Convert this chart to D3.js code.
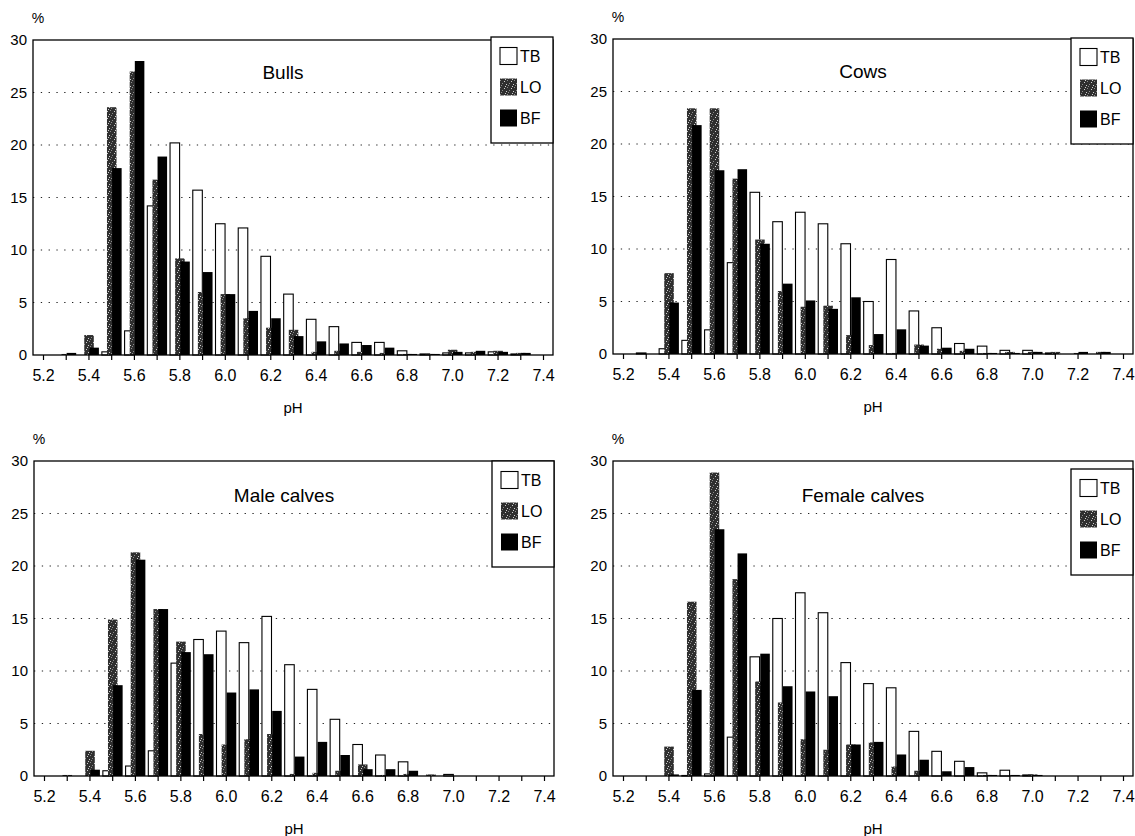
<!DOCTYPE html>
<html>
<head>
<meta charset="utf-8">
<script src="https://cdn.jsdelivr.net/npm/d3@7"></script>
<style>
  body { margin: 0; background: #fff; }
  svg { display: block; font-family: "Liberation Sans", Arial, sans-serif; }
</style>
</head>
<body>
<div id="chart"></div>
<script>
// pH classes on the x axis
const phClasses = ["5.2", "5.3", "5.4", "5.5", "5.6", "5.7", "5.8", "5.9", "6.0", "6.1", "6.2", "6.3",
    "6.4", "6.5", "6.6", "6.7", "6.8", "6.9", "7.0", "7.1", "7.2", "7.3", "7.4"];
const tickLabels = ["5.2", "5.4", "5.6", "5.8", "6.0", "6.2", "6.4", "6.6", "6.8", "7.0", "7.2", "7.4"];
const yTicks = [0, 5, 10, 15, 20, 25, 30];
const keys = ["TB", "LO", "BF"];

// % of carcasses per pH class
const bullsTB = [0, 0, 0, 0.3, 2.3, 14.2, 20.2, 15.7, 12.5, 12.1, 9.4, 5.8, 3.4, 2.7, 1.2, 1.2, 0.4, 0.1, 0.2, 0.2, 0.3, 0.1, 0];
const bullsLO = [0, 0.1, 1.9, 23.6, 27.0, 16.7, 9.2, 6.0, 5.8, 3.5, 2.6, 2.4, 0.3, 0.4, 0.3, 0.2, 0.1, 0.1, 0.5, 0.3, 0.4, 0.2, 0];
const bullsBF = [0, 0.2, 0.7, 17.8, 28.0, 18.9, 8.9, 7.9, 5.8, 4.2, 3.5, 1.8, 1.3, 1.1, 0.95, 0.7, 0.1, 0.1, 0.3, 0.4, 0.3, 0.2, 0];

const cowsTB = [0, 0.1, 0.5, 1.3, 2.3, 8.7, 15.4, 12.6, 13.5, 12.4, 10.5, 5.0, 9.0, 4.1, 2.5, 1.0, 0.75, 0.35, 0.35, 0.1, 0, 0, 0];
const cowsLO = [0, 0, 7.7, 23.4, 23.4, 16.7, 10.9, 6.0, 4.5, 4.6, 1.8, 0.85, 0.1, 0.9, 0.5, 0.3, 0.1, 0.2, 0.2, 0.2, 0.1, 0.2, 0];
const cowsBF = [0, 0, 4.9, 21.8, 17.5, 17.6, 10.5, 6.7, 5.1, 4.3, 5.4, 1.9, 2.35, 0.8, 0.6, 0.5, 0.1, 0.1, 0.2, 0, 0.2, 0.2, 0];

const maleTB = [0, 0, 0, 0.5, 0.95, 2.4, 10.75, 13.0, 13.8, 12.7, 15.2, 10.6, 8.25, 5.4, 3.0, 2.0, 1.35, 0, 0.15, 0, 0, 0, 0];
const maleLO = [0, 0.1, 2.4, 14.9, 21.3, 15.9, 12.8, 4.0, 3.0, 3.5, 4.0, 0.2, 0.3, 0.5, 1.1, 0.1, 0.2, 0.15, 0, 0, 0, 0, 0];
const maleBF = [0, 0, 0.6, 8.65, 20.6, 15.9, 11.8, 11.6, 7.95, 8.25, 6.2, 1.85, 3.25, 2.0, 0.65, 0.65, 0.5, 0, 0, 0, 0, 0, 0];

const femaleTB = [0, 0, 0, 0.05, 0.2, 3.7, 11.35, 15.0, 17.45, 15.55, 10.8, 8.8, 8.4, 4.25, 2.35, 1.4, 0.3, 0.55, 0.1, 0, 0, 0, 0];
const femaleLO = [0, 0, 2.8, 16.6, 28.9, 18.75, 9.0, 7.0, 3.5, 2.5, 3.0, 3.2, 0.9, 0.5, 0, 0, 0.1, 0, 0.15, 0, 0, 0, 0];
const femaleBF = [0, 0, 0.15, 8.2, 23.5, 21.2, 11.65, 8.55, 8.05, 7.6, 3.0, 3.25, 2.05, 1.55, 0.45, 0.85, 0.1, 0.1, 0.1, 0, 0, 0, 0];

const panels = [
    {title: "Bulls", series: [bullsTB, bullsLO, bullsBF], left: 33, top: 40, legendTop: -3},
    {title: "Cows", series: [cowsTB, cowsLO, cowsBF], left: 613, top: 39, legendTop: -1},
    {title: "Male calves", series: [maleTB, maleLO, maleBF], left: 34, top: 461, legendTop: 0},
    {title: "Female calves", series: [femaleTB, femaleLO, femaleBF], left: 613, top: 461, legendTop: 8}
];

const width = 520, height = 315;

const svg = d3.select("#chart").append("svg")
    .attr("width", 1135)
    .attr("height", 836);

// speckled dark grey fill used for LO
const defs = svg.append("defs");
const pat = defs.append("pattern")
    .attr("id", "speckle")
    .attr("patternUnits", "userSpaceOnUse")
    .attr("width", 7)
    .attr("height", 7);
pat.append("rect").attr("width", 7).attr("height", 7).attr("fill", "#2f2f2f");
[[0, 0], [4, 1], [2, 3], [6, 4], [1, 5], [5, 6]].forEach(function (p, i) {
    pat.append("rect")
        .attr("x", p[0]).attr("y", p[1])
        .attr("width", 1).attr("height", 1)
        .attr("fill", i % 2 ? "#cfcfcf" : "#8c8c8c");
});

const fills = {TB: "#fff", LO: "url(#speckle)", BF: "#000"};

const x = d3.scalePoint()
    .domain(phClasses)
    .range([10, width - 10]);

const sub = d3.scalePoint()
    .domain(keys)
    .range([-0.2 * x.step(), 0.25 * x.step()]);
const barW = 0.42 * x.step();

const y = d3.scaleLinear()
    .domain([0, 30])
    .range([height, 0]);

panels.forEach(function (p) {
    const g = svg.append("g")
        .attr("transform", `translate(${p.left},${p.top})`);

    // dotted grid
    g.append("g").selectAll("line")
        .data(yTicks.filter(d => d > 0 && d < 30))
        .enter().append("line")
        .attr("x1", 0).attr("x2", width)
        .attr("y1", d => y(d)).attr("y2", d => y(d))
        .attr("stroke", "#222")
        .attr("stroke-width", 1.2)
        .attr("stroke-dasharray", "1.3,6.5");

    // bars, drawn series by series so they overlap like the original
    keys.forEach(function (k, ki) {
        const rows = phClasses.map((c, i) => ({c: c, v: p.series[ki][i]})).filter(d => d.v > 0);
        g.append("g").selectAll("rect")
            .data(rows)
            .enter().append("rect")
            .attr("x", d => x(d.c) + sub(k) - barW / 2)
            .attr("y", d => y(d.v))
            .attr("width", barW)
            .attr("height", d => y(0) - y(d.v))
            .attr("fill", fills[k])
            .attr("stroke", k === "TB" ? "#000" : "none")
            .attr("stroke-width", 1.1);
    });

    // frame
    g.append("rect")
        .attr("width", width)
        .attr("height", height)
        .attr("fill", "none")
        .attr("stroke", "#000")
        .attr("stroke-width", 1.3);

    // x axis
    const xAxis = g.append("g")
        .attr("transform", `translate(0,${height})`)
        .call(d3.axisBottom(x).tickSize(5).tickFormat(d => tickLabels.includes(d) ? d : ""));
    xAxis.select(".domain").remove();
    xAxis.selectAll(".tick line").attr("stroke", "#000").attr("stroke-width", 1.2);
    xAxis.selectAll("text")
        .attr("font-size", 16)
        .attr("font-family", "Liberation Sans, Arial, sans-serif")
        .attr("fill", "#000")
        .attr("dy", "1.15em");

    // y axis (labels only)
    const yAxis = g.append("g")
        .call(d3.axisLeft(y).tickValues(yTicks).tickSize(0).tickPadding(6));
    yAxis.select(".domain").remove();
    yAxis.selectAll("text")
        .attr("font-size", 15)
        .attr("font-family", "Liberation Sans, Arial, sans-serif")
        .attr("fill", "#000");

    g.append("text")
        .attr("x", 5)
        .attr("y", -17)
        .attr("font-size", 14)
        .attr("text-anchor", "middle")
        .text("%");

    g.append("text")
        .attr("x", width / 2)
        .attr("y", height + 58)
        .attr("font-size", 15)
        .attr("text-anchor", "middle")
        .text("pH");

    g.append("text")
        .attr("x", width / 2 - 10)
        .attr("y", p.top < 100 ? 39 : 41)
        .attr("font-size", 19)
        .attr("text-anchor", "middle")
        .text(p.title);

    // legend box
    const lg = g.append("g")
        .attr("transform", `translate(${width - 62},${p.legendTop})`);
    lg.append("rect")
        .attr("width", 62)
        .attr("height", 106)
        .attr("fill", "#fff")
        .attr("stroke", "#000")
        .attr("stroke-width", 1.3);
    const item = lg.selectAll(".item")
        .data(keys)
        .enter().append("g")
        .attr("class", "item")
        .attr("transform", (d, i) => `translate(9,${19 + i * 31})`);
    item.append("rect")
        .attr("y", -8.5)
        .attr("width", 17)
        .attr("height", 17)
        .attr("fill", d => fills[d])
        .attr("stroke", d => d === "TB" ? "#000" : "none")
        .attr("stroke-width", 1.1);
    item.append("text")
        .attr("x", 20)
        .attr("dy", "0.36em")
        .attr("font-size", 16)
        .text(d => d);
});
</script>
</body>
</html>
